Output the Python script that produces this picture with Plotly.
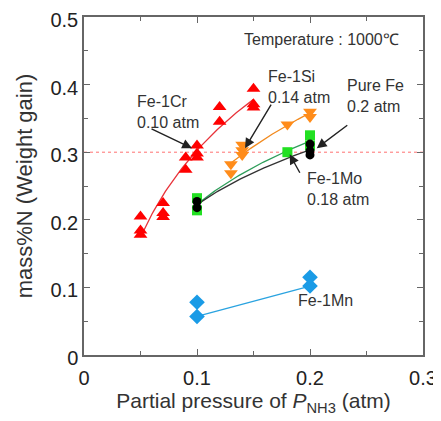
import numpy as np
import plotly.graph_objects as go

# ---- data ----
cr_x = [0.05, 0.05, 0.05, 0.07, 0.07, 0.07, 0.09, 0.09, 0.10, 0.10, 0.10, 0.12, 0.12, 0.15, 0.15, 0.15]
cr_y = [0.205, 0.184, 0.178, 0.225, 0.210, 0.204, 0.292, 0.274, 0.310, 0.298, 0.292, 0.367, 0.345, 0.394, 0.371, 0.366]

si_x = [0.13, 0.13, 0.14, 0.14, 0.14, 0.18, 0.20, 0.20]
si_y = [0.282, 0.269, 0.311, 0.303, 0.296, 0.341, 0.360, 0.352]

mo_x = [0.10, 0.10, 0.18, 0.20, 0.20]
mo_y = [0.232, 0.214, 0.300, 0.325, 0.310]

fe_x = [0.10, 0.10, 0.20, 0.20, 0.20]
fe_y = [0.227, 0.218, 0.312, 0.302, 0.296]

mn_x = [0.10, 0.10, 0.20, 0.20]
mn_y = [0.078, 0.057, 0.115, 0.102]

ref_level = 0.3
x_ticks = [0, 0.1, 0.2, 0.3]
y_ticks = [0, 0.1, 0.2, 0.3, 0.4, 0.5]

FONT = "Liberation Sans, Arial, Helvetica, sans-serif"
TXT = "#333333"


def log_fit(xs, ys, n=60):
    xs = np.asarray(xs, float)
    ys = np.asarray(ys, float)
    b, a = np.polyfit(np.log(xs), ys, 1)
    xx = np.linspace(xs.min(), xs.max(), n)
    return xx, a + b * np.log(xx)


def min_line(xs, ys):
    xs = np.asarray(xs, float)
    ys = np.asarray(ys, float)
    ux = np.unique(xs)
    return ux, np.array([ys[xs == u].min() for u in ux])


fig = go.Figure()

# fitted lines
for xs, ys, col in [(cr_x, cr_y, "#e8333a"), (si_x, si_y, "#f28a1e"),
                    (mo_x, mo_y, "#2e9e5a"), (fe_x, fe_y, "#333333")]:
    lx, ly = log_fit(xs, ys)
    fig.add_trace(go.Scatter(x=lx, y=ly, mode="lines",
                             line=dict(color=col, width=1.3), showlegend=False,
                             hoverinfo="skip"))
lx, ly = min_line(mn_x, mn_y)
fig.add_trace(go.Scatter(x=lx, y=ly, mode="lines", line=dict(color="#2aa3e0", width=1.3),
                         showlegend=False, hoverinfo="skip"))

# markers
fig.add_trace(go.Scatter(x=cr_x, y=cr_y, mode="markers", name="Fe-1Cr",
                         marker=dict(symbol="triangle-up", size=12, color="#ff0000")))
fig.add_trace(go.Scatter(x=si_x, y=si_y, mode="markers", name="Fe-1Si",
                         marker=dict(symbol="triangle-down", size=12, color="#ff8c1a")))
fig.add_trace(go.Scatter(x=mo_x, y=mo_y, mode="markers", name="Fe-1Mo",
                         marker=dict(symbol="square", size=10, color="#22e022")))
fig.add_trace(go.Scatter(x=fe_x, y=fe_y, mode="markers", name="Pure Fe",
                         marker=dict(symbol="circle", size=9, color="#000000")))
fig.add_trace(go.Scatter(x=mn_x, y=mn_y, mode="markers", name="Fe-1Mn",
                         marker=dict(symbol="diamond", size=12, color="#1a9be6")))

# reference line
fig.add_shape(type="line", xref="paper", x0=0, x1=1, yref="y", y0=ref_level, y1=ref_level,
              line=dict(color="#ff7070", width=1, dash="dot"), layer="below")

def label(x, y, text):
    fig.add_annotation(x=x, y=y, text=text, showarrow=False, xanchor="left",
                       yanchor="middle", align="left",
                       font=dict(family=FONT, size=16, color=TXT))

def arrow(x, y, ax, ay):
    fig.add_annotation(x=x, y=y, ax=ax, ay=ay, text="", showarrow=True,
                       arrowhead=2, arrowsize=1.4, arrowwidth=1.4, arrowcolor="#222222",
                       standoff=0)

label(0.045, 0.359, "Fe-1Cr<br>0.10 atm")
label(0.161, 0.396, "Fe-1Si<br>0.14 atm")
label(0.231, 0.383, "Pure Fe<br>0.2 atm")
label(0.196, 0.245, "Fe-1Mo<br>0.18 atm")
label(0.188, 0.08, "Fe-1Mn")
label(0.140, 0.466, "Temperature : 1000℃")

arrow(0.0956, 0.306, -42, -20)
arrow(0.1425, 0.306, 27, -45)
arrow(0.206, 0.306, 32, -24)
arrow(0.182, 0.297, 11, 20)

axis_common = dict(showline=True, linecolor="#666666", linewidth=1.5, mirror="ticks",
                   ticks="inside", ticklen=6, tickwidth=1.2, tickcolor="#666666",
                   showgrid=False, zeroline=False, automargin=False,
                   ticklabeloverflow="allow",
                   tickfont=dict(family=FONT, size=20, color="#222222"),
                   minor=dict(ticks="inside", ticklen=4, tickwidth=1, tickcolor="#666666",
                              dtick=0.05, showgrid=False))

fig.update_xaxes(range=[0, 0.3], tickvals=x_ticks, ticktext=[str(v) for v in x_ticks],
                 ticklabelstandoff=4,
                 title=dict(text="Partial pressure of <i>P</i><sub>NH3</sub> (atm)",
                            font=dict(family=FONT, size=21, color=TXT), standoff=6),
                 **axis_common)
fig.update_yaxes(range=[0, 0.5], tickvals=y_ticks, ticktext=[str(v) for v in y_ticks],
                 ticklabelstandoff=0, ticklabelshift=3,
                 title=dict(text="mass%N (Weight gain)",
                            font=dict(family=FONT, size=22, color=TXT), standoff=12),
                 **axis_common)

# the page body adds an 8px offset, so the figure is sized to fit the window
fig.update_layout(width=433, height=413, margin=dict(l=76, r=18, t=9, b=66),
                  plot_bgcolor="white", paper_bgcolor="white", showlegend=False,
                  font=dict(family=FONT, color=TXT))

fig.write_html("out.html")
